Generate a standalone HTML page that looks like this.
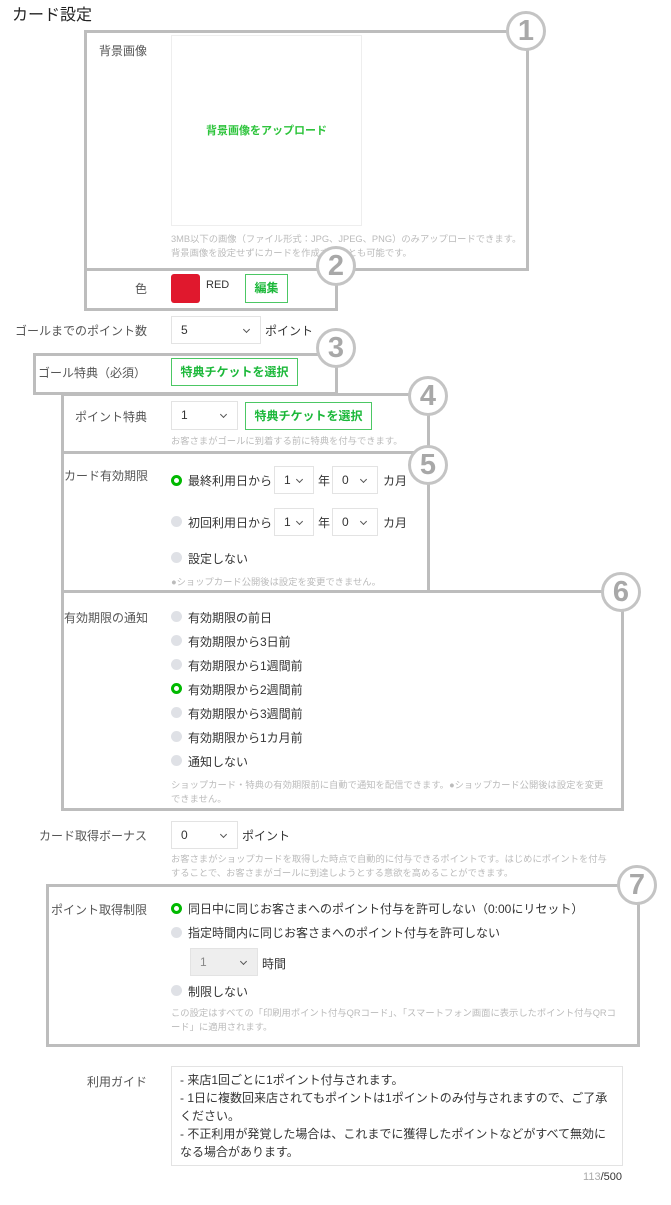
<!DOCTYPE html>
<html><head><meta charset="utf-8"><style>
*{margin:0;padding:0;box-sizing:border-box}
body{width:671px;height:1205px;background:#fff;position:relative;overflow:hidden;font-family:"Liberation Sans","Noto Sans CJK JP",sans-serif;color:#333}
.a{position:absolute;white-space:nowrap}
.lb{position:absolute;font-size:12px;color:#555;text-align:right;width:147px;left:0;white-space:nowrap}
.t{position:absolute;font-size:12px;color:#333;white-space:nowrap}
.h{position:absolute;font-size:9.3px;color:#bbb;white-space:nowrap;line-height:14px}
.box{position:absolute;border:3px solid #bdbdbd}
.c{position:absolute;width:40px;height:40px;border:3px solid #c4c4c4;border-radius:50%;background:#fff;color:#a8a8a8;font-weight:bold;font-size:29px;text-align:center;line-height:34px;font-family:"Liberation Sans",sans-serif}
.sel{position:absolute;border:1px solid #e3e3e3;background:#fff;font-size:12px;color:#333;padding-left:9px;line-height:26px}
.sel:after{content:"";position:absolute;right:11px;top:10px;width:4px;height:4px;border-right:1.3px solid #555;border-bottom:1.3px solid #555;transform:rotate(45deg)}
.btn{position:absolute;border:1px solid #4cc764;color:#1cb83a;font-size:12px;font-weight:bold;text-align:center;line-height:26px;background:#fff}
.r{position:absolute;width:11px;height:11px;border-radius:50%;background:#dfe1e6}
.r.on{background:#fff;border:3px solid #00b900}
</style></head><body>
<div class="a" style="left:12px;top:1px;font-size:16px;color:#222">カード設定</div>

<div class="box" style="left:84px;top:30px;width:445px;height:241px"></div>
<div class="box" style="left:84px;top:268px;width:254px;height:43px"></div>
<div class="box" style="left:33px;top:353px;width:305px;height:42px"></div>
<div class="box" style="left:61px;top:393px;width:369px;height:61px"></div>
<div class="box" style="left:61px;top:451px;width:369px;height:142px"></div>
<div class="box" style="left:61px;top:590px;width:563px;height:221px"></div>
<div class="box" style="left:46px;top:884px;width:594px;height:163px"></div>

<div class="lb" style="top:42px">背景画像</div>
<div class="a" style="left:171px;top:35px;width:191px;height:191px;border:1px solid #eee"></div>
<div class="a" style="left:171px;top:122px;width:191px;text-align:center;font-size:11px;font-weight:bold;color:#2ec43c">背景画像をアップロード</div>
<div class="h" style="left:171px;top:232px">3MB以下の画像（ファイル形式：JPG、JPEG、PNG）のみアップロードできます。<br>背景画像を設定せずにカードを作成することも可能です。</div>

<div class="lb" style="top:280px">色</div>
<div class="a" style="left:171px;top:274px;width:29px;height:29px;background:#e0182d;border-radius:3px"></div>
<div class="t" style="left:206px;top:279px;font-size:11px">RED</div>
<div class="btn" style="left:245px;top:274px;width:43px;height:29px">編集</div>

<div class="lb" style="top:322px">ゴールまでのポイント数</div>
<div class="sel" style="left:171px;top:316px;width:90px;height:28px">5</div>
<div class="t" style="left:265px;top:322px">ポイント</div>

<div class="a" style="left:38px;top:364px;font-size:12px;color:#555">ゴール特典（必須）</div>
<div class="btn" style="left:171px;top:358px;width:127px;height:28px">特典チケットを選択</div>

<div class="lb" style="top:408px">ポイント特典</div>
<div class="sel" style="left:171px;top:401px;width:67px;height:29px">1</div>
<div class="btn" style="left:245px;top:402px;width:127px;height:28px">特典チケットを選択</div>
<div class="h" style="left:171px;top:434px">お客さまがゴールに到着する前に特典を付与できます。</div>

<div class="a" style="left:64px;top:467px;font-size:12px;color:#555">カード有効期限</div>
<div class="r on" style="left:171px;top:475px"></div>
<div class="t" style="left:188px;top:472px">最終利用日から</div>
<div class="sel" style="left:274px;top:466px;width:40px;height:28px">1</div>
<div class="t" style="left:318px;top:472px">年</div>
<div class="sel" style="left:332px;top:466px;width:46px;height:28px">0</div>
<div class="t" style="left:383px;top:472px">カ月</div>
<div class="r" style="left:171px;top:516px"></div>
<div class="t" style="left:188px;top:514px">初回利用日から</div>
<div class="sel" style="left:274px;top:508px;width:40px;height:28px">1</div>
<div class="t" style="left:318px;top:514px">年</div>
<div class="sel" style="left:332px;top:508px;width:46px;height:28px">0</div>
<div class="t" style="left:383px;top:514px">カ月</div>
<div class="r" style="left:171px;top:552px"></div>
<div class="t" style="left:188px;top:550px">設定しない</div>
<div class="h" style="left:171px;top:575px">●ショップカード公開後は設定を変更できません。</div>

<div class="a" style="left:64px;top:609px;font-size:12px;color:#555">有効期限の通知</div>
<div class="r" style="left:171px;top:611px"></div><div class="t" style="left:188px;top:609px">有効期限の前日</div>
<div class="r" style="left:171px;top:635px"></div><div class="t" style="left:188px;top:633px">有効期限から3日前</div>
<div class="r" style="left:171px;top:659px"></div><div class="t" style="left:188px;top:657px">有効期限から1週間前</div>
<div class="r on" style="left:171px;top:683px"></div><div class="t" style="left:188px;top:681px">有効期限から2週間前</div>
<div class="r" style="left:171px;top:707px"></div><div class="t" style="left:188px;top:705px">有効期限から3週間前</div>
<div class="r" style="left:171px;top:731px"></div><div class="t" style="left:188px;top:729px">有効期限から1カ月前</div>
<div class="r" style="left:171px;top:755px"></div><div class="t" style="left:188px;top:753px">通知しない</div>
<div class="h" style="left:171px;top:778px">ショップカード・特典の有効期限前に自動で通知を配信できます。●ショップカード公開後は設定を変更<br>できません。</div>

<div class="lb" style="top:827px">カード取得ボーナス</div>
<div class="sel" style="left:171px;top:821px;width:67px;height:28px">0</div>
<div class="t" style="left:242px;top:827px">ポイント</div>
<div class="h" style="left:171px;top:852px">お客さまがショップカードを取得した時点で自動的に付与できるポイントです。はじめにポイントを付与<br>することで、お客さまがゴールに到達しようとする意欲を高めることができます。</div>

<div class="lb" style="top:901px">ポイント取得制限</div>
<div class="r on" style="left:171px;top:903px"></div><div class="t" style="left:188px;top:900px">同日中に同じお客さまへのポイント付与を許可しない（0:00にリセット）</div>
<div class="r" style="left:171px;top:927px"></div><div class="t" style="left:188px;top:924px">指定時間内に同じお客さまへのポイント付与を許可しない</div>
<div class="sel" style="left:190px;top:948px;width:68px;height:28px;background:#eee;color:#888">1</div>
<div class="t" style="left:262px;top:955px">時間</div>
<div class="r" style="left:171px;top:985px"></div><div class="t" style="left:188px;top:983px">制限しない</div>
<div class="h" style="left:171px;top:1006px">この設定はすべての「印刷用ポイント付与QRコード」、「スマートフォン画面に表示したポイント付与QRコ<br>ード」に適用されます。</div>

<div class="lb" style="top:1073px">利用ガイド</div>
<div class="a" style="left:171px;top:1066px;width:452px;height:100px;border:1px solid #e3e3e3"></div>
<div class="a" style="left:180px;top:1071px;font-size:12px;line-height:18px;color:#333">- 来店1回ごとに1ポイント付与されます。<br>- 1日に複数回来店されてもポイントは1ポイントのみ付与されますので、ご了承<br>ください。<br>- 不正利用が発覚した場合は、これまでに獲得したポイントなどがすべて無効に<br>なる場合があります。</div>
<div class="a" style="left:560px;top:1171px;width:62px;text-align:right;font-size:11px;color:#333"><span style="color:#aaa">113</span>/500</div>

<div class="c" style="left:506px;top:11px">1</div>
<div class="c" style="left:316px;top:246px">2</div>
<div class="c" style="left:316px;top:328px">3</div>
<div class="c" style="left:408px;top:376px">4</div>
<div class="c" style="left:408px;top:445px">5</div>
<div class="c" style="left:601px;top:572px">6</div>
<div class="c" style="left:617px;top:865px">7</div>
</body></html>
